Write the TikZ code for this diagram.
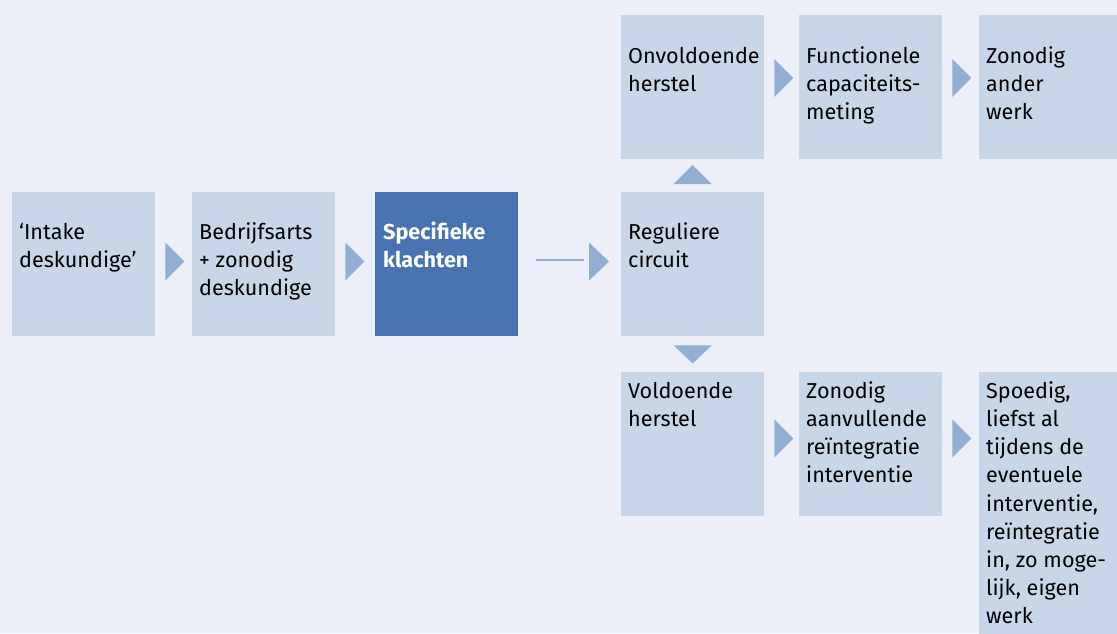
\documentclass[tikz,border=0pt]{standalone}
\usepackage{fontspec}
\setmainfont{Fira Sans}
\usetikzlibrary{calc}
\definecolor{bgc}{HTML}{ECEFF7}
\definecolor{boxc}{HTML}{C9D6E8}
\definecolor{darkc}{HTML}{4872B0}
\definecolor{arrc}{HTML}{92AED4}
\tikzset{
  box/.style={fill=boxc, draw=none, minimum width=143pt, minimum height=144pt, inner sep=0pt, anchor=north west},
  darkbox/.style={box, fill=darkc},
  txt/.style={anchor=north west, inner sep=0pt, align=left, font=\fontsize{21.6}{28.2}\selectfont, text=black},
  wtxt/.style={txt, text=white, font=\fontsize{21.6}{28.2}\selectfont\bfseries},
  tri/.style={fill=arrc, draw=none},
  link/.style={draw=arrc, line width=2pt}
}
\newcommand\rtri[2]{\fill[tri] ($(#1.north east)+(10,#2-19)$) -- ++(19,19) -- ++(-19,19) -- cycle;}
\newcommand\fs{\rule{0pt}{20pt}}
\begin{document}
\begin{tikzpicture}[x=1pt,y=-1pt]
\useasboundingbox (0,0) rectangle (1117,633);
\clip (0,0) rectangle (1117,633);
\fill[bgc] (0,0) rectangle (1117,633);
% boxes
\node[box] (b1) at (12,192) {};
\node[box] (b2) at (192,192) {};
\node[darkbox] (b3) at (375,192) {};
\node[box] (b4) at (621,192) {};
\node[box] (t1) at (621,15) {};
\node[box] (t2) at (799,15) {};
\node[box] (t3) at (979,15) {};
\node[box] (u1) at (621,372) {};
\node[box] (u2) at (799,372) {};
\node[box, minimum height=300pt] (u3) at (979,372) {};
% texts
\node[txt] (b1t) at ($(b1.north west)+(7,27)$) {\fs‘Intake\\deskundige’};
\node[txt] (b2t) at ($(b2.north west)+(7,27)$) {\fs Bedrijfsarts\\+ zonodig\\deskundige};
\node[wtxt] (b3t) at ($(b3.north west)+(8,27)$) {\fs Specifieke\\klachten};
\node[txt] (b4t) at ($(b4.north west)+(7,27)$) {\fs Reguliere\\circuit};
\node[txt] (t1t) at ($(t1.north west)+(7,28)$) {\fs Onvoldoende\\herstel};
\node[txt] (t2t) at ($(t2.north west)+(7,28)$) {\fs Functionele\\capaciteits-\\meting};
\node[txt] (t3t) at ($(t3.north west)+(7,28)$) {\fs Zonodig\\ander\\werk};
\node[txt] (u1t) at ($(u1.north west)+(7,6)$) {\fs Voldoende\\herstel};
\node[txt] (u2t) at ($(u2.north west)+(7,6)$) {\fs Zonodig\\aanvullende\\reïntegratie\\interventie};
\node[txt] (u3t) at ($(u3.north west)+(7,6)$) {\fs Spoedig,\\liefst al\\tijdens de\\eventuele\\interventie,\\reïntegratie\\in, zo moge-\\lijk, eigen\\werk};
% arrows
\rtri{b1}{69.5}
\rtri{b2}{69.5}
\coordinate (lnA) at ($(b3.north east)+(18,68)$);
\coordinate (lnB) at ($(b4.north west)+(-37,68)$);
\draw[link] (lnA) -- (lnB);
\fill[tri] ($(b4.north west)+(-32,50.5)$) -- ++(20,19) -- ++(-20,19) -- cycle;
\rtri{t1}{63}
\rtri{t2}{63}
\rtri{u1}{66.5}
\rtri{u2}{66.5}
% vertical triangles
\fill[tri] ($(b4.north)+(-19,-8)$) -- ++(38,0) -- ++(-19,-19) -- cycle;
\fill[tri] ($(b4.south)+(-19,9)$) -- ++(38,0) -- ++(-19,18) -- cycle;
\end{tikzpicture}
\end{document}
